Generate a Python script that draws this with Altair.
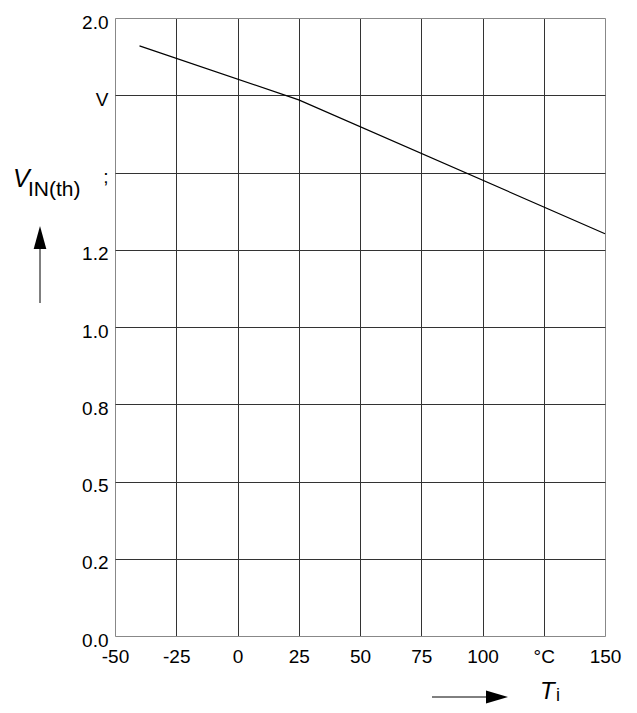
import altair as alt
import pandas as pd

# data
temps = [-40, 25, 150]
vth = [1.91, 1.735, 1.302]

x_ticks = [-50, -25, 0, 25, 50, 75, 100, 125, 150]
y_ticks = [0, 0.25, 0.5, 0.75, 1.0, 1.25, 1.5, 1.75, 2.0]
y_tick_text = ["0.0", "0.2", "0.5", "0.8", "1.0", "1.2", ";", "V", "2.0"]
x_tick_text = ["-50", "-25", "0", "25", "50", "75", "100", "°C", "150"]

df = pd.DataFrame({"T": temps, "V": vth})

FONT = "Liberation Sans"

def label_expr(vals, texts):
    parts = " : ".join(f"datum.value == {v} ? '{t}'" for v, t in zip(vals, texts))
    return parts + " : ''"

W, H = 490, 618

line = alt.Chart(df).mark_line(color="black", strokeWidth=1.2).encode(
    x=alt.X("T:Q", scale=alt.Scale(domain=[-50, 150], nice=False, zero=False),
            axis=alt.Axis(values=x_ticks, title=None, labelExpr=label_expr(x_ticks, x_tick_text),
                          labelFont=FONT, labelFontSize=19, labelColor="black",
                          labelPadding=11, ticks=False, domain=False, labelFlush=False,
                          labelOverlap=False,
                          grid=True, gridColor={"condition": {"test": "datum.value == -50 || datum.value == 150", "value": "#888"}, "value": "#333"},
                          gridWidth=1)),
    y=alt.Y("V:Q", scale=alt.Scale(domain=[0, 2], nice=False),
            axis=alt.Axis(values=y_ticks, title=None, labelExpr=label_expr(y_ticks, y_tick_text),
                          labelFont=FONT, labelFontSize=19, labelColor="black",
                          labelPadding=7, ticks=False, domain=False, labelFlush=False,
                          labelOverlap=False, labelBaseline="middle", labelOffset=4,
                          grid=True, gridColor={"condition": {"test": "datum.value == 0 || datum.value == 2", "value": "#888"}, "value": "#333"},
                          gridWidth=1)),
)

def txt(t, size, x, y, italic=False):
    kw = dict(font=FONT, fontSize=size, align="left", baseline="alphabetic", color="black")
    if italic:
        kw["fontStyle"] = "italic"
    return alt.Chart(pd.DataFrame({"t": [t]})).mark_text(**kw).encode(
        text="t:N", x=alt.value(x), y=alt.value(y))

one = pd.DataFrame({"a": [0]})

# y-axis title and arrow
ytitle_v = txt("V", 25, -102, 169, italic=True)
ytitle_sub = txt("IN(th)", 21, -87, 178)
yarrow_line = alt.Chart(one).mark_rule(color="black", strokeWidth=1).encode(
    x=alt.value(-75), y=alt.value(285), y2=alt.value(228))
yarrow_head = alt.Chart(one).mark_point(
    shape="M0,-1L0.55,1L-0.55,1Z", filled=True, color="black", opacity=1, size=529, strokeWidth=0
).encode(x=alt.value(-75), y=alt.value(219.5))

# x-axis title and arrow
xarrow_line = alt.Chart(one).mark_rule(color="black", strokeWidth=1).encode(
    x=alt.value(317), x2=alt.value(375), y=alt.value(679))
xarrow_head = alt.Chart(one).mark_point(
    shape="M1,0L-1,0.58L-1,-0.58Z", filled=True, color="black", opacity=1, size=484, strokeWidth=0
).encode(x=alt.value(382), y=alt.value(679))
xtitle_t = txt("T", 24, 425, 681, italic=True)
xtitle_sub = txt("i", 18, 441, 683)

chart = alt.layer(
    line, ytitle_v, ytitle_sub, yarrow_line, yarrow_head,
    xarrow_line, xarrow_head, xtitle_t, xtitle_sub
).properties(
    width=W, height=H,
    autosize=alt.AutoSizeParams(type="none"),
    padding={"left": 107, "top": 10, "right": 24, "bottom": 69},
).configure_view(stroke="#888", strokeWidth=1.2).configure(background="white")

chart.save("out.html", embed_options={"renderer": "svg", "actions": False})
